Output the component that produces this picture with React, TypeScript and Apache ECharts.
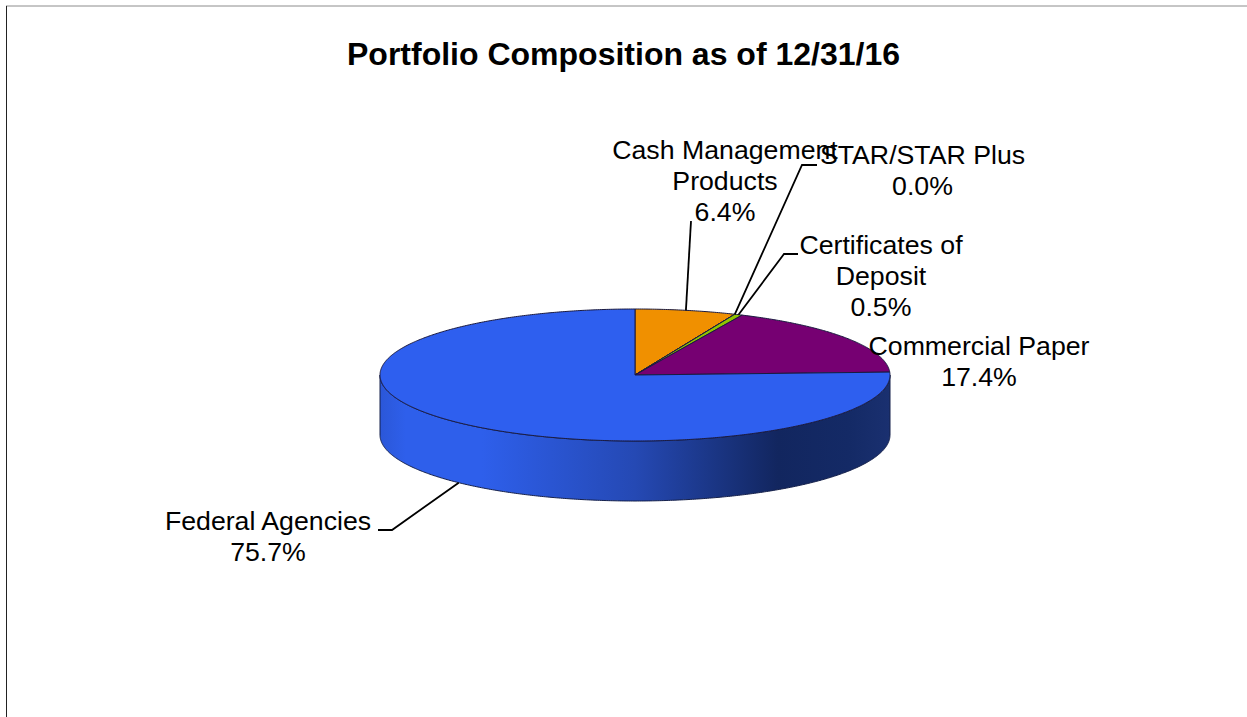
import React, { useEffect, useRef } from "react";
import * as echarts from "echarts";

const categories = ["Cash Management\nProducts", "STAR/STAR Plus", "Certificates of\nDeposit", "Commercial Paper", "Federal Agencies"];
const values = [6.4, 0.0, 0.5, 17.4, 75.7];
const colors = ["#F09000", "#7A9A00", "#8FC400", "#760072", "#2E5FEF"];
const titleText = "Portfolio Composition as of 12/31/16";

// Drawing layout only (not data)
const W = 1247, H = 717;
const CX = 635, CY = 375, RX = 255, RY = 66, DEPTH = 60;
const labelPos = [[725, 181], [922.5, 170], [881, 276], [979, 361.5], [268, 536.5]];
const elbows: (number[][])[] = [
  [[691, 221]],
  [[817, 165], [802, 165]],
  [[798, 254], [784, 254]],
  [[]],
  [[378, 530], [392, 530]],
];

const total = values.reduce((a, b) => a + b, 0);
const pt = (deg: number, dy = 0) => {
  const r = (deg * Math.PI) / 180;
  return [CX + RX * Math.sin(r), CY - RY * Math.cos(r) + dy];
};
const arc = (a0: number, a1: number, dy = 0) => {
  const n = Math.max(1, Math.ceil(Math.abs(a1 - a0) * 2));
  const out: number[][] = [];
  for (let i = 0; i <= n; i++) out.push(pt(a0 + ((a1 - a0) * i) / n, dy));
  return out;
};

const wallFill = new echarts.graphic.LinearGradient(380, 0, 890, 0, [
  { offset: 0, color: "#2B57D8" },
  { offset: 0.05, color: "#2E5FEB" },
  { offset: 0.2, color: "#2E5FEB" },
  { offset: 0.5, color: "#2549B4" },
  { offset: 0.78, color: "#12265F" },
  { offset: 0.92, color: "#142A66" },
  { offset: 1, color: "#1A3070" },
], true);

function renderItem(params: any) {
  const i = params.dataIndex;
  const before = values.slice(0, i).reduce((a, b) => a + b, 0);
  const a0 = (before / total) * 360;
  const a1 = ((before + values[i]) / total) * 360;
  const mid = (a0 + a1) / 2;
  const children: any[] = [];
  const w0 = Math.max(a0, 90), w1 = Math.min(a1, 270);
  if (w1 > w0) {
    children.push({
      type: "polygon",
      shape: { points: [...arc(w0, w1), ...arc(w1, w0, DEPTH)] },
      style: { fill: wallFill, stroke: "#15204A", lineWidth: 1 },
    });
  }
  children.push({
    type: "polygon",
    shape: { points: [[CX, CY], ...arc(a0, a1)] },
    style: { fill: colors[i], stroke: "#1A1A40", lineWidth: 1 },
  });
  const bend = elbows[i];
  if (bend[0].length) {
    const front = mid > 90 && mid < 270;
    const end = pt(mid, front ? DEPTH : 0);
    children.push({
      type: "polyline",
      z2: 5,
      shape: { points: [...bend, end] },
      style: { fill: "none", stroke: "#000", lineWidth: 1.8 },
    });
  }
  children.push({
    type: "text",
    z2: 10,
    x: labelPos[i][0],
    y: labelPos[i][1],
    style: {
      text: `${categories[i]}\n${values[i].toFixed(1)}%`,
      fill: "#000",
      font: '26.7px "Liberation Sans", Arial, sans-serif',
      lineHeight: 31,
      align: "center",
      verticalAlign: "middle",
    },
  });
  return { type: "group", children };
}

export default function App() {
  const ref = useRef<HTMLDivElement>(null);
  useEffect(() => {
    const chart = echarts.init(ref.current!, null, { renderer: "svg" });
    chart.setOption({
      animation: false,
      backgroundColor: "#fff",
      title: {
        text: titleText,
        left: 618.5,
        top: 33,
        textAlign: "center",
        textStyle: { fontFamily: '"Liberation Sans", Arial, sans-serif', fontSize: 32, fontWeight: "bold", color: "#000" },
      },
      graphic: [
        { type: "line", shape: { x1: 6, y1: 6, x2: W, y2: 6 }, style: { stroke: "#8C8C8C", lineWidth: 1 } },
        { type: "line", shape: { x1: 6.5, y1: 6, x2: 6.5, y2: H }, style: { stroke: "#222", lineWidth: 1 } },
      ],
      series: [{
        type: "custom",
        coordinateSystem: "none",
        silent: true,
        renderItem,
        data: values.map((v, i) => ({ name: categories[i], value: v })),
      }],
    });
    return () => chart.dispose();
  }, []);
  return <div ref={ref} style={{ position: "fixed", left: 0, top: 0, width: W, height: H }} />;
}
